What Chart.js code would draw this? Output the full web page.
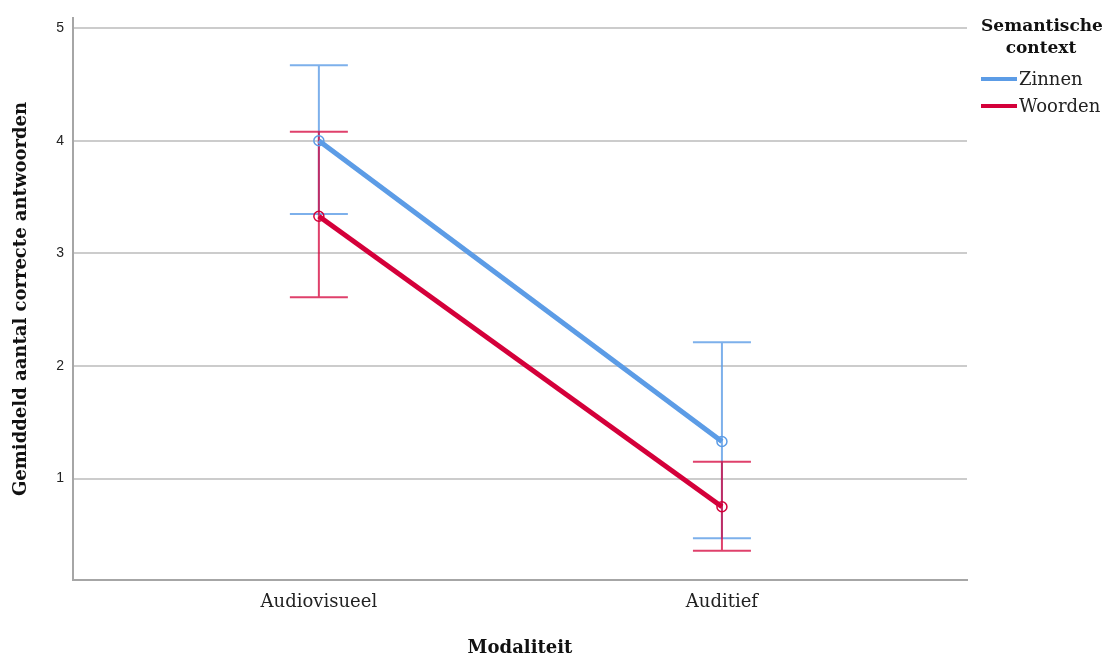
<!DOCTYPE html>
<html>
<head>
<meta charset="utf-8">
<script src="https://cdn.jsdelivr.net/npm/chart.js@4/dist/chart.umd.min.js"></script>
<style>
  html, body { margin: 0; padding: 0; background: #fff; }
  #wrap { width: 1112px; height: 660px; }
</style>
</head>
<body>
<div id="wrap"><canvas id="plot"></canvas></div>
<script>
// data
const categories = ['Audiovisueel', 'Auditief'];
const yTicks = [1, 2, 3, 4, 5];

const zinnenMean = [4.00, 1.33];
const zinnenLow = [3.35, 0.47];
const zinnenHigh = [4.67, 2.21];

const woordenMean = [3.33, 0.75];
const woordenLow = [2.61, 0.36];
const woordenHigh = [4.08, 1.15];

const blue = 'rgb(92,156,230)';
const blueBar = 'rgba(92,156,230,0.8)';
const red = 'rgb(212,0,58)';
const redBar = 'rgba(212,0,58,0.75)';

function points(means) {
    return means.map((v, i) => ({ x: i, y: v }));
}

// error bars drawn through the chart's own scales
const errorBars = {
    id: 'errorBars',
    beforeDatasetsDraw(chart) {
        const ctx = chart.ctx;
        const xs = chart.scales.x, ys = chart.scales.y;
        chart.data.datasets.forEach(ds => {
            ctx.save();
            ctx.strokeStyle = ds.barColor;
            ctx.lineWidth = 2;
            ds.errLow.forEach((lo, i) => {
                const px = xs.getPixelForValue(i);
                const yLo = ys.getPixelForValue(lo);
                const yHi = ys.getPixelForValue(ds.errHigh[i]);
                ctx.beginPath();
                ctx.moveTo(px, yLo); ctx.lineTo(px, yHi);
                ctx.moveTo(px - 29, yLo); ctx.lineTo(px + 29, yLo);
                ctx.moveTo(px - 29, yHi); ctx.lineTo(px + 29, yHi);
                ctx.stroke();
            });
            ctx.restore();
        });
    }
};

// legend on the right, with a two line title
const sideLegend = {
    id: 'sideLegend',
    afterDraw(chart) {
        const ctx = chart.ctx;
        ctx.save();
        ctx.fillStyle = '#111';
        ctx.font = 'bold 17px "DejaVu Serif"';
        ctx.textAlign = 'center';
        ctx.textBaseline = 'alphabetic';
        ctx.fillText('Semantische', 1042, 31);
        ctx.fillText('context', 1041, 53);
        ctx.font = '18px "DejaVu Serif"';
        ctx.textAlign = 'left';
        ctx.textBaseline = 'middle';
        chart.data.datasets.forEach((ds, k) => {
            const y = 79 + k * 27;
            ctx.fillStyle = ds.borderColor;
            ctx.fillRect(981, y - 2, 36, 4);
            ctx.fillStyle = '#222';
            ctx.fillText(ds.label, 1019, y + 1);
        });
        ctx.restore();
    }
};

new Chart(document.getElementById('plot'), {
    type: 'line',
    data: {
        datasets: [
            {
                label: 'Zinnen',
                data: points(zinnenMean),
                errLow: zinnenLow,
                errHigh: zinnenHigh,
                barColor: blueBar,
                borderColor: blue,
                backgroundColor: 'rgba(0,0,0,0)',
                borderWidth: 5,
                pointRadius: 5,
                pointBorderWidth: 1.5,
                pointBorderColor: blue,
                pointBackgroundColor: 'rgba(0,0,0,0)'
            },
            {
                label: 'Woorden',
                data: points(woordenMean),
                errLow: woordenLow,
                errHigh: woordenHigh,
                barColor: redBar,
                borderColor: red,
                backgroundColor: 'rgba(0,0,0,0)',
                borderWidth: 5,
                pointRadius: 5,
                pointBorderWidth: 1.5,
                pointBorderColor: red,
                pointBackgroundColor: 'rgba(0,0,0,0)'
            }
        ]
    },
    options: {
        responsive: true,
        maintainAspectRatio: false,
        animation: false,
        layout: { padding: { left: 0, top: 18, right: 145, bottom: 0 } },
        plugins: {
            legend: { display: false },
            tooltip: { enabled: false }
        },
        scales: {
            x: {
                type: 'linear',
                min: -0.61,
                max: 1.608,
                afterBuildTicks: s => { s.ticks = categories.map((c, i) => ({ value: i })); },
                afterFit: s => { s.height = 80; },
                grid: { display: false, drawTicks: false },
                border: { display: true, color: '#a6a6a6', width: 2 },
                ticks: {
                    padding: 12,
                    color: '#222',
                    font: { family: 'DejaVu Serif', size: 18 },
                    callback: v => categories[v]
                },
                title: {
                    display: true,
                    text: 'Modaliteit',
                    color: '#111',
                    font: { family: 'DejaVu Serif', size: 18, weight: 'bold' },
                    padding: { top: 0, bottom: 1 }
                }
            },
            y: {
                min: 0.1,
                max: 5.09,
                afterBuildTicks: s => { s.ticks = yTicks.map(v => ({ value: v })); },
                afterFit: s => { s.width = 73; },
                grid: { color: '#cccccc', lineWidth: 2, drawTicks: false },
                border: { display: true, color: '#a6a6a6', width: 2 },
                ticks: {
                    padding: 9,
                    color: '#222',
                    font: { family: 'Liberation Sans', size: 14 }
                },
                title: {
                    display: true,
                    text: 'Gemiddeld aantal correcte antwoorden',
                    color: '#111',
                    font: { family: 'DejaVu Serif', size: 18, weight: 'bold' },
                    padding: { top: 11, bottom: 0 }
                }
            }
        }
    },
    plugins: [errorBars, sideLegend]
});
</script>
</body>
</html>
